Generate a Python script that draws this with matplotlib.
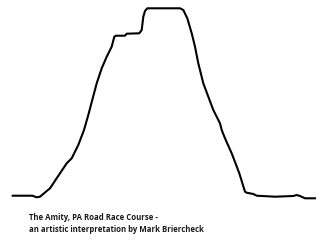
import matplotlib
matplotlib.use('Agg')
import matplotlib.pyplot as plt

# Perfil del recorrido (distancia en px, elevación en px)
distance = [12.7, 32.3, 36.7, 40, 50, 60, 66.7, 71.7, 78.3, 84, 88.3, 96.7, 101.7,
            106.7, 111.7, 114.3, 116, 125, 126.7, 139.3, 141.7, 143.3, 145, 147.3,
            180, 183.3, 187.3, 191.7, 195, 198.3, 203.3, 208.3, 213.3, 220, 221.7,
            225, 231.7, 239.3, 245, 246.7, 253.3, 256.7, 275, 293.3, 296.7, 300,
            305, 315]
elevation = [44.3, 44.3, 42.7, 43.3, 51.7, 66.7, 76.7, 81.7, 95, 110, 125, 156.7, 171.7,
             183.3, 193.3, 203.3, 204.3, 204.3, 206.3, 206.7, 210, 223.3, 229, 231.7,
             231.7, 230, 221.7, 206.7, 193.3, 176.7, 156.7, 143.3, 130, 116.7, 110,
             101.7, 86.7, 66.7, 48.3, 47.3, 46, 44.3, 43.3, 44, 45, 44, 41.7, 41.7]

caption_lines = ["The Amity, PA Road Race Course -",
                 "an artistic interpretation by Mark Briercheck"]

fig = plt.figure(figsize=(3.2, 2.4), dpi=100)
ax = fig.add_axes([0, 0, 1, 1])
ax.plot(distance, elevation, color='black', linewidth=1.5, solid_joinstyle='round')
ax.set_xlim(0, 320)
ax.set_ylim(0, 240)
ax.axis('off')

for i, line in enumerate(caption_lines):
    ax.text(29, 240 - 218 - 12 * i, line, fontsize=5.6, fontweight='bold',
            family='Open Sans', color='#1a1a1a', va='center')

fig.savefig('out.png', dpi=100)
